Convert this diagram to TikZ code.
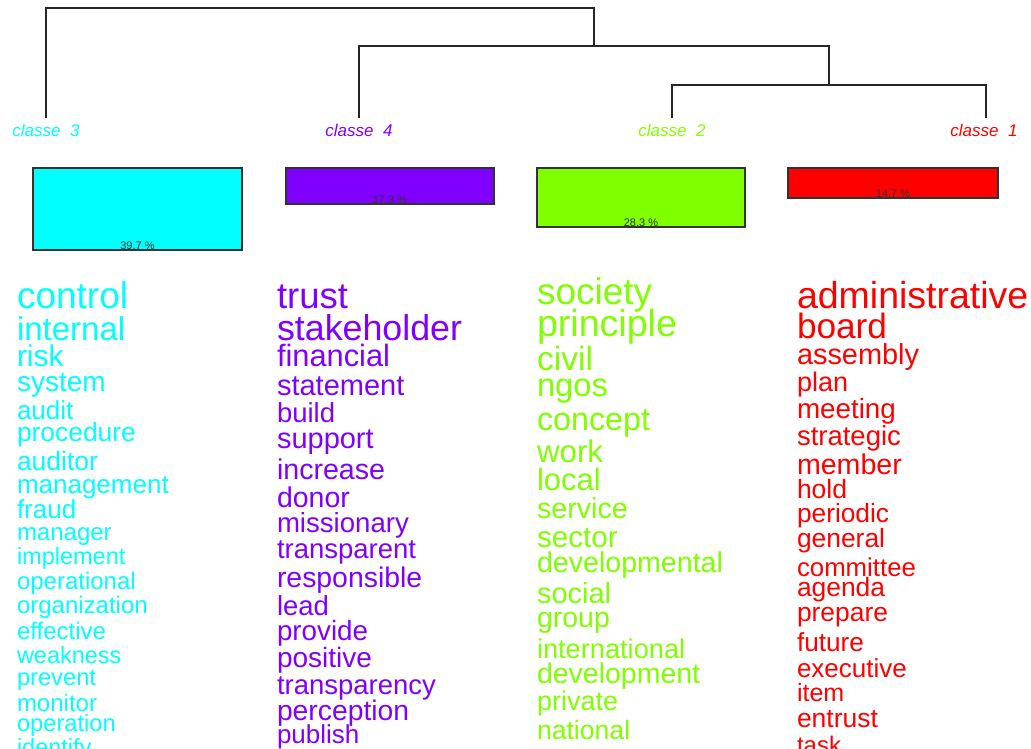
\documentclass[tikz,border=0pt]{standalone}
\usepackage{fontspec}
\setmainfont{Liberation Sans}
\definecolor{ccyan}{HTML}{00FFFF}
\definecolor{cpurple}{HTML}{8000FF}
\definecolor{cgreen}{HTML}{80FF00}
\definecolor{cred}{HTML}{FF0000}
\definecolor{edge}{HTML}{333333}
\begin{document}
\begin{tikzpicture}[x=1pt,y=-1pt,
  word/.style={anchor=mid west,inner sep=0pt,outer sep=0pt,yshift=-9pt},
  clabel/.style={anchor=center,inner sep=0pt,font=\fontsize{17}{17}\selectfont\itshape},
  pct/.style={anchor=base,inner sep=0pt,text=black!80,font=\fontsize{11}{11}\selectfont},
  bar/.style={draw=edge,line width=1.1pt},
  tree/.style={draw=black!85,line width=1.1pt}]
\useasboundingbox (0,0) rectangle (1031,748);
\clip (0,0) rectangle (1031,748);
% dendrogram
\coordinate (l3) at (46,118);
\coordinate (l4) at (359,118);
\coordinate (l2) at (672,118);
\coordinate (l1) at (986,118);
\coordinate (m21) at (829,85);
\coordinate (m421) at (594,46);
\coordinate (root) at (320,8);
\draw[tree] (l2) |- (m21) -| (l1);
\draw[tree] (l4) |- (m421) -| (m21);
\draw[tree] (l3) |- (root) -| (m421);
% class labels
\node[clabel,text=ccyan] (k3) at (46,130) {classe\ \ 3};
\node[clabel,text=cpurple] (k4) at (359,130) {classe\ \ 4};
\node[clabel,text=cgreen] (k2) at (672,130) {classe\ \ 2};
\node[clabel,text=cred] (k1) at (984,130) {classe\ \ 1};
% bars
\draw[bar,fill=ccyan] (33,168) rectangle (242,250);
\draw[bar,fill=cpurple] (286,168) rectangle (494,204);
\draw[bar,fill=cgreen] (537,168) rectangle (745,227);
\draw[bar,fill=cred] (788,168) rectangle (998,198);
\node[pct] (p3) at (137.5,249) {39.7 \%};
\node[pct] (p4) at (390,203) {17.3 \%};
\node[pct] (p2) at (641,226) {28.3 \%};
\node[pct] (p1) at (893,197) {14.7 \%};
% words
\foreach \t/\s/\y [count=\i] in {control/37/297,internal/33/329,risk/30/355,system/28/380,audit/26/408,procedure/26.4/430,auditor/26.5/459,management/26/482,fraud/26/507,manager/24/529,implement/23.5/553,operational/24/578,organization/24/602,effective/24/628,weakness/23.5/652,prevent/23.7/674,monitor/24/700,operation/23.7/720,identify/23.5/744}
  \node[word,text=ccyan,font=\fontsize{\s}{\s}\selectfont] (c\i) at (17,\y) {\t};
\foreach \t/\s/\y [count=\i] in {trust/36.5/297,stakeholder/35.8/329,financial/30.8/355,statement/29/384,build/27.5/411,support/29/437,increase/28.6/468,donor/28.5/496,missionary/27.6/521,transparent/27.5/547,responsible/28.4/576,lead/27.5/604,provide/27.8/629,positive/28/656,transparency/27.5/683,perception/28.3/709,publish/26/732}
  \node[word,text=cpurple,font=\fontsize{\s}{\s}\selectfont] (v\i) at (277,\y) {\t};
\foreach \t/\s/\y [count=\i] in {society/37/293,principle/37.6/325,civil/33.6/359,ngos/32.7/385,concept/32.3/419,work/31.3/451,local/31/479,service/28.7/507,sector/29.7/536,developmental/28.6/561,social/29/592,group/28.5/616,international/27.2/647,development/28.5/672,private/27/699,national/26.6/728}
  \node[word,text=cgreen,font=\fontsize{\s}{\s}\selectfont] (g\i) at (537,\y) {\t};
\foreach \t/\s/\y [count=\i] in {administrative/37.5/297,board/35.2/327,assembly/28.9/353,plan/27/380,meeting/27.8/407,strategic/27.5/434,member/28.6/463,hold/26.5/487,periodic/26.3/511,general/26.4/536,committee/25.8/565,agenda/26.4/585,prepare/26.4/610,future/26.2/640,executive/26/666,item/25/690,entrust/26.5/716,task/24/742}
  \node[word,text=cred,font=\fontsize{\s}{\s}\selectfont] (r\i) at (797,\y) {\t};
\end{tikzpicture}
\end{document}
